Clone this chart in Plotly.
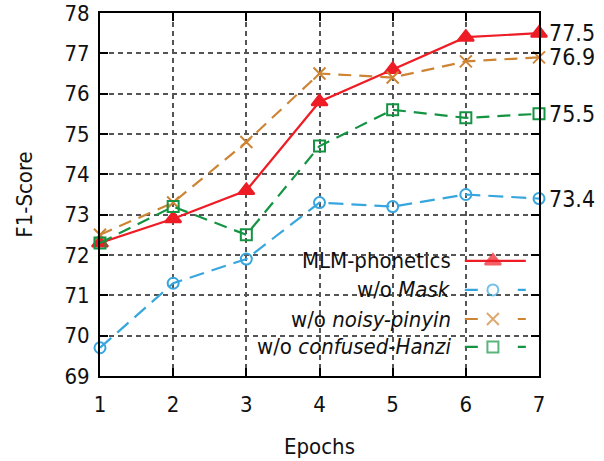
import plotly.graph_objects as go

epochs = [1, 2, 3, 4, 5, 6, 7]
mlm_phonetics = [72.3, 72.9, 73.6, 75.8, 76.6, 77.4, 77.5]
wo_mask = [69.7, 71.3, 71.9, 73.3, 73.2, 73.5, 73.4]
wo_noisy_pinyin = [72.5, 73.3, 74.8, 76.5, 76.4, 76.8, 76.9]
wo_confused_hanzi = [72.3, 73.2, 72.5, 74.7, 75.6, 75.4, 75.5]
y_ticks = [69, 70, 71, 72, 73, 74, 75, 76, 77, 78]

series = [
    ("MLM-phonetics", mlm_phonetics, "#EE1C25", "solid", "triangle-up", 14),
    ("w/o <i>Mask</i>", wo_mask, "#38A6DE", "15px,8px", "circle-open", 11),
    ("w/o <i>noisy-pinyin</i>", wo_noisy_pinyin, "#CD8534", "13px,8px", "x-thin-open", 12),
    ("w/o <i>confused-Hanzi</i>", wo_confused_hanzi, "#149443", "13px,8px", "square-open", 11),
]

FONT = "DejaVu Sans Condensed, DejaVu Sans"
FS = 22
fig = go.Figure()

for name, vals, color, dash, sym, size in series:
    fig.add_trace(go.Scatter(
        x=epochs, y=vals, mode="lines+markers", name=name,
        line=dict(color=color, width=2.2, dash=dash),
        marker=dict(symbol=sym, size=size, color=color,
                    line=dict(color=color, width=2)),
        cliponaxis=False, showlegend=False,
    ))

# manual legend (text on the left, sample on the right, like gnuplot)
row_y = [0.317, 0.237, 0.157, 0.080]
lx0, lxm, lx1 = 0.831, 0.895, 0.970
for (name, vals, color, dash, sym, size), ry in zip(series, row_y):
    sample_dash = "solid" if dash == "solid" else "13px,40px"
    fig.add_trace(go.Scatter(
        x=[lx0, lxm, lx1], y=[ry, ry, ry], xaxis="x2", yaxis="y2",
        mode="lines+markers",
        line=dict(color=color, width=2.2, dash=sample_dash),
        marker=dict(symbol=sym, size=[0, size, 0], color=color,
                    line=dict(color=color, width=2)),
        showlegend=False, hoverinfo="skip", cliponaxis=False,
    ))
    fig.add_annotation(
        x=0.804, y=ry, xref="paper", yref="paper", text=name,
        showarrow=False, xanchor="right", yanchor="middle",
        font=dict(family=FONT, size=FS, color="#111"),
    )

# end-value labels
for name, vals, color, dash, sym, size in series:
    fig.add_annotation(
        x=epochs[-1], y=vals[-1], xref="x", yref="y", text=f"{vals[-1]:.1f}",
        showarrow=False, xanchor="left", yanchor="middle", xshift=8,
        font=dict(family=FONT, size=FS + 1, color="#111"),
    )

# opaque key box
fig.add_shape(type="rect", xref="paper", yref="paper",
              x0=0.280, x1=0.998, y0=0.004, y1=0.353,
              fillcolor="white", line=dict(width=0), layer="between")

axis_common = dict(
    showline=True, linecolor="black", linewidth=2, mirror="ticks",
    ticks="inside", ticklen=8, tickwidth=1.5, tickcolor="black",
    showgrid=True, gridcolor="#555", gridwidth=1.5, griddash="5px,4px",
    zeroline=False, automargin=False, ticklabeloverflow="allow",
    tickfont=dict(family=FONT, size=FS, color="#111"),
)

fig.update_layout(
    width=604, height=461,
    margin=dict(l=100, r=65, t=13, b=85),
    plot_bgcolor="white", paper_bgcolor="white",
    font=dict(family=FONT, size=FS, color="#111"),
    xaxis=dict(range=[1, 7], tickvals=epochs, ticklabelstandoff=8,
               title=dict(text="Epochs", standoff=22,
                          font=dict(family=FONT, size=FS)),
               **axis_common),
    yaxis=dict(range=[69, 78], tickvals=y_ticks, ticklabelstandoff=4,
               title=dict(text="F1-Score", standoff=26,
                          font=dict(family=FONT, size=FS)),
               **axis_common),
    xaxis2=dict(range=[0, 1], overlaying="x", visible=False, fixedrange=True),
    yaxis2=dict(range=[0, 1], overlaying="y", visible=False, fixedrange=True),
    showlegend=False,
)

fig.write_html(
    "out.html",
    config={"displayModeBar": False},
    post_script="document.body.style.margin='0';document.body.style.overflow='hidden';",
)
